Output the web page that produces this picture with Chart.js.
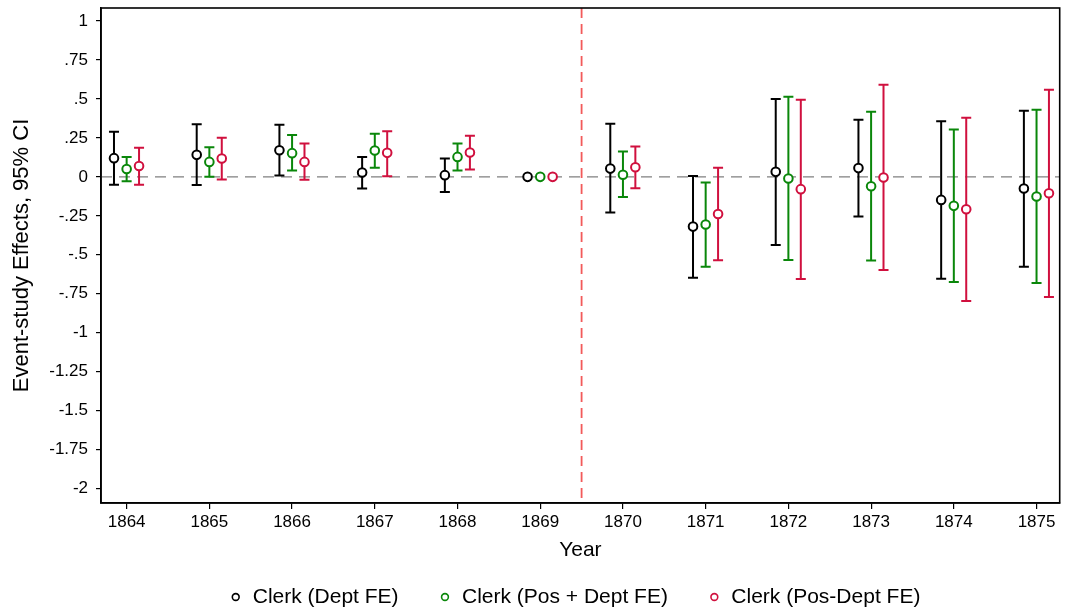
<!DOCTYPE html>
<html>
<head>
<meta charset="utf-8">
<script src="https://cdn.jsdelivr.net/npm/chart.js@4"></script>
<style>
  html, body { margin: 0; padding: 0; background: #ffffff; }
  #wrap { width: 1066px; height: 614px; }
</style>
</head>
<body>
<div id="wrap"><canvas id="chart" width="1066" height="614"></canvas></div>
<script>
// Event-study coefficients by year, with 95% confidence bounds
const years = [1864, 1865, 1866, 1867, 1868, 1869, 1870, 1871, 1872, 1873, 1874, 1875];

const deptEst = [0.12, 0.141, 0.171, 0.028, 0.011, 0, 0.053, -0.319, 0.032, 0.056, -0.148, -0.075];
const deptLo  = [-0.05, -0.053, 0.008, -0.075, -0.098, 0, -0.229, -0.647, -0.437, -0.255, -0.653, -0.576];
const deptHi  = [0.29, 0.338, 0.334, 0.128, 0.118, 0, 0.34, 0.006, 0.499, 0.366, 0.357, 0.424];

const posDeptEst = [0.05, 0.096, 0.152, 0.169, 0.128, 0, 0.013, -0.306, -0.011, -0.06, -0.186, -0.126];
const posDeptLo  = [-0.028, 0.0, 0.04, 0.058, 0.04, 0, -0.13, -0.576, -0.533, -0.537, -0.674, -0.681];
const posDeptHi  = [0.128, 0.19, 0.268, 0.276, 0.214, 0, 0.163, -0.036, 0.514, 0.417, 0.304, 0.43];

const posXDeptEst = [0.07, 0.118, 0.096, 0.154, 0.156, 0, 0.062, -0.238, -0.079, -0.004, -0.208, -0.105];
const posXDeptLo  = [-0.05, -0.017, -0.019, 0.004, 0.047, 0, -0.073, -0.535, -0.655, -0.597, -0.796, -0.771];
const posXDeptHi  = [0.186, 0.25, 0.214, 0.293, 0.263, 0, 0.195, 0.058, 0.495, 0.591, 0.379, 0.559];

const seriesLabels = ['Clerk (Dept FE)', 'Clerk (Pos + Dept FE)', 'Clerk (Pos-Dept FE)'];
const seriesColors = ['#000000', '#0a870a', '#d0103e'];
const seriesOffsets = [-0.153, 0, 0.15];

const yTicks = [1, 0.75, 0.5, 0.25, 0, -0.25, -0.5, -0.75, -1, -1.25, -1.5, -1.75, -2];
const yTickLabels = ['1', '.75', '.5', '.25', '0', '-.25', '-.5', '-.75', '-1', '-1.25', '-1.5', '-1.75', '-2'];

const treatmentBreak = 1869.5;

const FONT = "'Liberation Sans', Arial, Helvetica, sans-serif";

const estimates = [deptEst, posDeptEst, posXDeptEst];
const lows = [deptLo, posDeptLo, posXDeptLo];
const highs = [deptHi, posDeptHi, posXDeptHi];

const datasets = seriesLabels.map((label, s) => ({
  label: label,
  data: years.map((yr, i) => ({ x: yr + seriesOffsets[s], y: estimates[s][i] })),
  lo: lows[s],
  hi: highs[s],
  borderColor: seriesColors[s],
  backgroundColor: '#ffffff',
  pointStyle: 'circle',
  pointRadius: 4.3,
  pointBorderWidth: 2,
  pointHoverRadius: 4.3,
  showLine: false
}));

// Reference lines, CI whiskers, plot frame and legend
const decorations = {
  id: 'decorations',
  beforeDatasetsDraw(chart) {
    const { ctx, chartArea: a, scales: { x, y } } = chart;
    ctx.save();
    // zero line
    const y0 = y.getPixelForValue(0);
    ctx.strokeStyle = '#808080';
    ctx.lineWidth = 1.4;
    ctx.setLineDash([11, 7]);
    ctx.beginPath();
    ctx.moveTo(a.left, y0);
    ctx.lineTo(a.right, y0);
    ctx.stroke();
    // treatment break
    const xb = x.getPixelForValue(treatmentBreak);
    ctx.strokeStyle = '#f25a5a';
    ctx.lineWidth = 1.8;
    ctx.setLineDash([10, 6]);
    ctx.beginPath();
    ctx.moveTo(xb, a.top);
    ctx.lineTo(xb, a.bottom);
    ctx.stroke();
    ctx.setLineDash([]);
    // confidence intervals
    chart.data.datasets.forEach(ds => {
      ctx.strokeStyle = ds.borderColor;
      ctx.lineWidth = 2;
      ds.data.forEach((pt, i) => {
        if (ds.lo[i] === ds.hi[i]) return;
        const px = x.getPixelForValue(pt.x);
        const pl = y.getPixelForValue(ds.lo[i]);
        const ph = y.getPixelForValue(ds.hi[i]);
        const cap = 5;
        ctx.beginPath();
        ctx.moveTo(px, pl); ctx.lineTo(px, ph);
        ctx.moveTo(px - cap, pl); ctx.lineTo(px + cap, pl);
        ctx.moveTo(px - cap, ph); ctx.lineTo(px + cap, ph);
        ctx.stroke();
      });
    });
    ctx.restore();
  },
  afterDraw(chart) {
    const { ctx, chartArea: a } = chart;
    ctx.save();
    // frame
    ctx.strokeStyle = '#000000';
    ctx.lineWidth = 1.6;
    ctx.strokeRect(a.left, a.top, a.right - a.left, a.bottom - a.top);
    // legend
    const fontSize = 21;
    ctx.font = fontSize + 'px ' + FONT;
    ctx.textBaseline = 'middle';
    ctx.textAlign = 'left';
    const markerGap = 17;
    const itemGap = 43;
    const r = 3.4;
    const items = chart.data.datasets.map(ds => ({ text: ds.label, color: ds.borderColor, w: ctx.measureText(ds.label).width }));
    const total = items.reduce((s, it) => s + r + markerGap + it.w, 0) + itemGap * (items.length - 1);
    let cx = (a.left + a.right) / 2 - total / 2 - 4;
    const ly = 597;
    items.forEach(it => {
      ctx.beginPath();
      ctx.arc(cx + r, ly, r, 0, Math.PI * 2);
      ctx.strokeStyle = it.color;
      ctx.lineWidth = 1.6;
      ctx.stroke();
      ctx.fillStyle = '#000000';
      ctx.fillText(it.text, cx + r + markerGap, ly);
      cx += r + markerGap + it.w + itemGap;
    });
    ctx.restore();
  }
};

new Chart(document.getElementById('chart'), {
  type: 'scatter',
  data: { datasets: datasets },
  options: {
    responsive: false,
    animation: false,
    events: [],
    layout: { padding: { top: 8, right: 0, left: 0, bottom: 49 } },
    plugins: {
      legend: { display: false },
      tooltip: { enabled: false }
    },
    scales: {
      x: {
        type: 'linear',
        min: 1863.69,
        max: 1875.28,
        afterBuildTicks: scale => { scale.ticks = years.map(v => ({ value: v })); },
        afterFit: scale => { scale.height = 62; scale.paddingLeft = 0; scale.paddingRight = 0; },
        ticks: {
          autoSkip: false,
          maxRotation: 0,
          padding: 3,
          color: '#000000',
          font: { family: FONT, size: 17 },
          callback: v => String(v)
        },
        grid: { display: true, drawOnChartArea: false, drawTicks: true, tickLength: 6, color: '#000000', lineWidth: 1.2 },
        border: { display: true, color: '#000000', width: 1.6 },
        title: { display: true, text: 'Year', color: '#000000', font: { family: FONT, size: 21 }, padding: { top: 0, bottom: 2 } }
      },
      y: {
        type: 'linear',
        min: -2.092,
        max: 1.083,
        afterBuildTicks: scale => { scale.ticks = yTicks.map(v => ({ value: v })); },
        afterFit: scale => { scale.width = 101; scale.paddingTop = 0; scale.paddingBottom = 0; },
        ticks: {
          autoSkip: false,
          padding: 8,
          color: '#000000',
          font: { family: FONT, size: 17 },
          callback: v => {
            const k = yTicks.findIndex(t => Math.abs(t - v) < 1e-9);
            return k >= 0 ? yTickLabels[k] : '';
          }
        },
        grid: { display: true, drawOnChartArea: false, drawTicks: true, tickLength: 5, color: '#000000', lineWidth: 1.2 },
        border: { display: true, color: '#000000', width: 1.6 },
        title: { display: true, text: 'Event-study Effects, 95% CI', color: '#000000', font: { family: FONT, size: 22 }, padding: { top: 9, bottom: 0 } }
      }
    }
  },
  plugins: [decorations]
});
</script>
</body>
</html>
